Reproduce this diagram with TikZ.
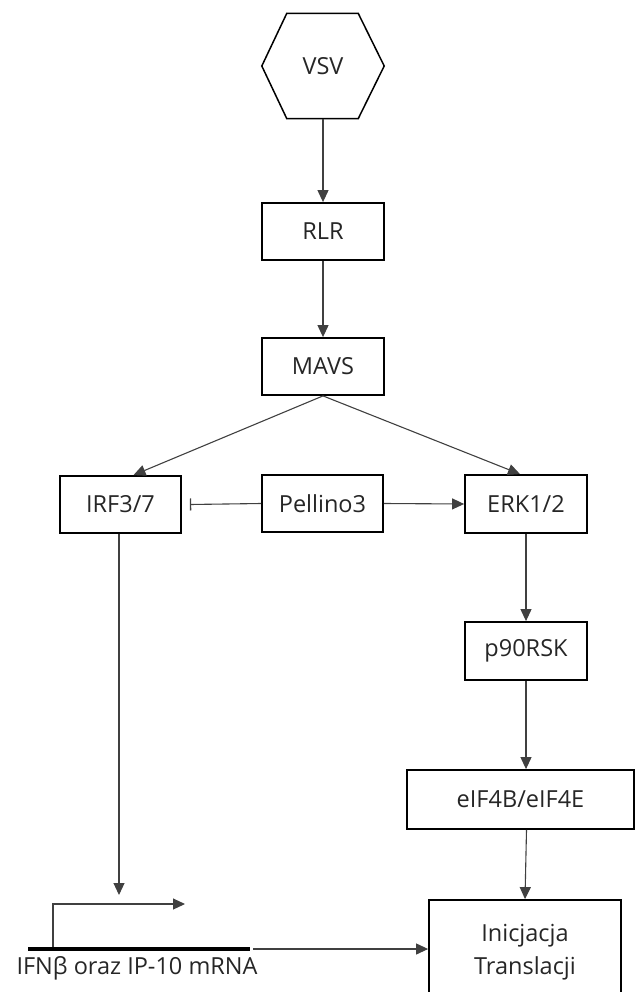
\documentclass[tikz,border=0pt]{standalone}
\usepackage{fontspec}
\setmainfont{Open Sans}
\usetikzlibrary{arrows.meta}
\begin{document}
\begin{tikzpicture}[x=1pt,y=-1pt,
  every node/.style={font=\fontsize{23.5}{33}\selectfont, text=black!85},
  box/.style={draw=black, line width=1.8pt, inner sep=0pt, align=center},
  conn/.style={draw=black!75, line width=1.1pt, -{Triangle[length=12pt,width=11pt]}},
  inhib/.style={draw=black!75, line width=1.1pt, -{Bar[width=12pt,line width=1.3pt]}}]
\useasboundingbox (0,0) rectangle (635,992);
% hexagon
\node[inner sep=0pt, minimum width=122pt, minimum height=105pt] (vsv) at (323,66) {VSV};
\draw[line width=1.5pt, black] (vsv.west) -- ([xshift=25pt]vsv.north west) -- ([xshift=-26pt]vsv.north east)
  -- (vsv.east) -- ([xshift=-26pt]vsv.south east) -- ([xshift=25pt]vsv.south west) -- cycle;
\node[box, minimum width=122pt, minimum height=57pt] (rlr) at (323,231.5) {RLR};
\node[box, minimum width=122pt, minimum height=57pt] (mavs) at (323,366.5) {MAVS};
\node[box, minimum width=121pt, minimum height=57pt] (irf) at (120.5,504.5) {IRF3/7};
\node[box, minimum width=121pt, minimum height=57pt] (pel) at (322.5,503.5) {Pellino3};
\node[box, minimum width=122pt, minimum height=58pt] (erk) at (526,504) {ERK1/2};
\node[box, minimum width=122pt, minimum height=58pt] (rsk) at (526,651) {p90RSK};
\node[box, minimum width=227pt, minimum height=59pt] (eif) at (520.5,799.5) {eIF4B/eIF4E};
\node[box, minimum width=192pt, minimum height=104pt] (ini) at (525,952) {Inicjacja\\Translacji};
% promoter
\coordinate (barL) at (28,949);
\coordinate (barR) at (250,949);
\coordinate (pstart) at (53,947);
\coordinate (pcorner) at (53,904);
\coordinate (pend) at (185,904);
\coordinate (irfend) at (119,895);
\coordinate (lineL) at (253,949);
\draw[line width=4pt, black] (barL) -- (barR);
\draw[conn] (pstart) -- (pcorner) -- (pend);
\node[anchor=center] (gene) at (137,968) {IFNβ oraz IP-10 mRNA};
% connectors
\draw[conn] (vsv.south) -- (rlr.north);
\draw[conn] (rlr.south) -- (mavs.north);
\draw[conn] (mavs.south) -- ([xshift=13pt]irf.north);
\draw[conn] (mavs.south) -- ([xshift=-6pt]erk.north);
\draw[inhib] (pel.west) -- ([xshift=8pt]irf.east);
\draw[conn] (pel.east) -- (erk.west);
\draw[conn] ([xshift=-1.5pt]irf.south) -- (irfend);
\draw[conn] (erk.south) -- (rsk.north);
\draw[conn] (rsk.south) -- ([xshift=5.5pt]eif.north);
\draw[conn] ([xshift=6pt]eif.south) -- (ini.north);
\draw[conn] (lineL) -- (ini.west |- lineL);
\end{tikzpicture}
\end{document}
